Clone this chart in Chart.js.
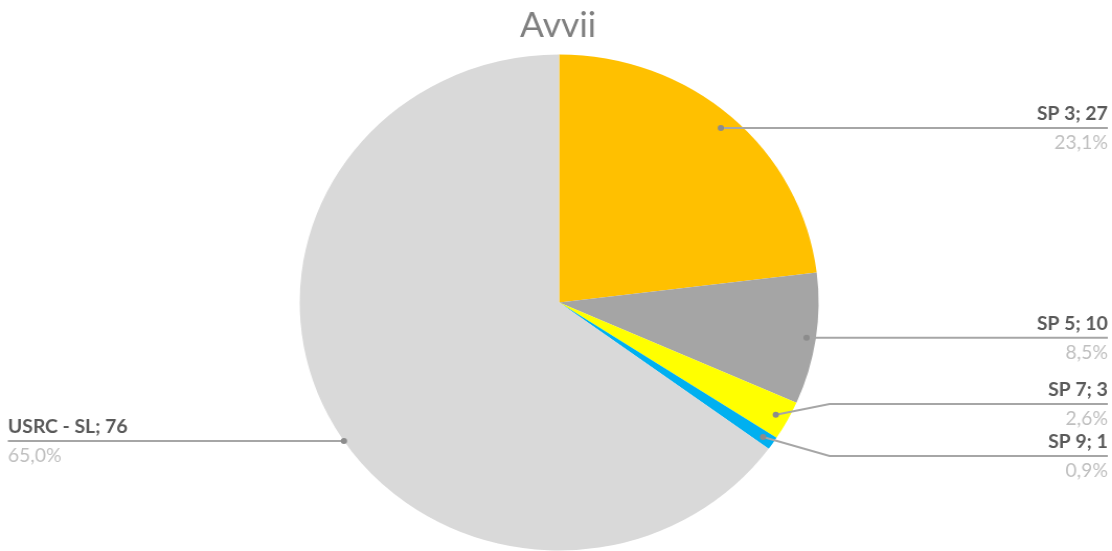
<!DOCTYPE html>
<html>
<head>
<meta charset="utf-8">
<script src="https://cdn.jsdelivr.net/npm/chart.js@4"></script>
<style>
    html, body { margin: 0; padding: 0; background: #ffffff; overflow: hidden; }
    /* il grafico originale è leggermente allargato in orizzontale */
    #wrap { width: 1063px; height: 551px; transform: scaleX(1.0461); transform-origin: 0 0; }
</style>
</head>
<body>
<div id="wrap"><canvas id="pie-chart" width="1063" height="551"></canvas></div>
<script>
// dati del grafico
const titolo = 'Avvii';
const categorie = ['SP 3', 'SP 5', 'SP 7', 'SP 9', 'USRC - SL'];
const valori = [27, 10, 3, 1, 76];
const percentuali = ['23,1%', '8,5%', '2,6%', '0,9%', '65,0%'];
const colori = ['#FFC000', '#A5A5A5', '#FFFF00', '#00B0F0', '#D9D9D9'];

// posizione delle etichette (solo layout)
const layoutEtichette = [
    { lato: 'dx', t: 0.5, r: 0.94 },
    { lato: 'dx', t: 0.5, r: 0.964 },
    { lato: 'dx', t: 0.5, r: 0.95, gomitoX: 793, lineaY: 404 },
    { lato: 'dx', t: 0.5, r: 0.955, gomitoX: 793, lineaY: 456 },
    { lato: 'sx', t: 0.47, r: 1.0 }
];

/**
 * Disegna titolo, linee guida ed etichette stile Excel
 */
const etichettePlugin = {
    id: 'etichette',
    afterDraw(chart) {
        const ctx = chart.ctx;
        const meta = chart.getDatasetMeta(0);
        const cx = (chart.chartArea.left + chart.chartArea.right) / 2;

        ctx.save();
        // titolo
        ctx.font = '34px Lato';
        ctx.fillStyle = '#7F7F7F';
        ctx.textAlign = 'center';
        ctx.textBaseline = 'middle';
        ctx.fillText(titolo, cx - 1, 26);

        meta.data.forEach((arc, i) => {
            const p = arc.getProps(['x', 'y', 'startAngle', 'endAngle', 'outerRadius'], true);
            const lay = layoutEtichette[i];
            const ang = p.startAngle + lay.t * (p.endAngle - p.startAngle);
            const px = p.x + Math.cos(ang) * p.outerRadius * lay.r;
            const py = p.y + Math.sin(ang) * p.outerRadius * lay.r;
            const lineaY = lay.lineaY !== undefined ? lay.lineaY : py;
            const fineX = lay.lato === 'dx' ? 1059 : 7.5;

            // linea guida
            ctx.strokeStyle = '#A6A6A6';
            ctx.lineWidth = 2;
            ctx.beginPath();
            ctx.moveTo(px, py);
            if (lay.gomitoX !== undefined) ctx.lineTo(lay.gomitoX, lineaY);
            ctx.lineTo(fineX, lineaY);
            ctx.stroke();

            // punto
            ctx.fillStyle = '#8C8C8C';
            ctx.beginPath();
            ctx.arc(px, py, 3, 0, Math.PI * 2);
            ctx.fill();

            // testi
            ctx.textAlign = lay.lato === 'dx' ? 'right' : 'left';
            ctx.textBaseline = 'middle';
            ctx.font = 'bold 18.5px Lato';
            ctx.fillStyle = '#595959';
            ctx.fillText(categorie[i] + '; ' + valori[i], fineX, lineaY - 14);
            ctx.font = '18.5px Lato';
            ctx.fillStyle = '#BFBFBF';
            ctx.fillText(percentuali[i], fineX, lineaY + 15);
        });
        ctx.restore();
    }
};

document.addEventListener('DOMContentLoaded', function() {
    const ctx = document.getElementById('pie-chart').getContext('2d');
    new Chart(ctx, {
        type: 'pie',
        data: {
            labels: categorie,
            datasets: [{
                data: valori,
                backgroundColor: colori,
                borderWidth: 0
            }]
        },
        options: {
            responsive: false,
            devicePixelRatio: 1,
            animation: false,
            radius: 248,
            layout: { padding: { top: 54, bottom: 0, left: 6, right: 0 } },
            plugins: {
                legend: { display: false },
                tooltip: { enabled: false },
                title: { display: false }
            }
        },
        plugins: [etichettePlugin]
    });
});
</script>
</body>
</html>
